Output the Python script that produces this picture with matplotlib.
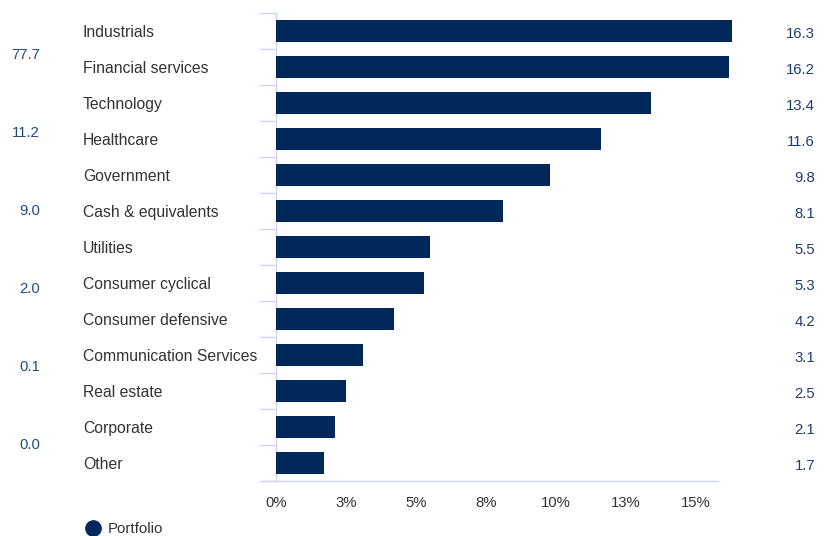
import matplotlib
matplotlib.use("Agg")
import matplotlib.pyplot as plt
from matplotlib.lines import Line2D

plt.rcParams['font.family'] = ['Liberation Sans', 'DejaVu Sans']

sectors = ['Industrials', 'Financial services', 'Technology', 'Healthcare',
           'Government', 'Cash & equivalents', 'Utilities', 'Consumer cyclical',
           'Consumer defensive', 'Communication Services', 'Real estate',
           'Corporate', 'Other']
portfolio = [16.3, 16.2, 13.4, 11.6, 9.8, 8.1, 5.5, 5.3, 4.2, 3.1, 2.5, 2.1, 1.7]
side_values = ['77.7', '11.2', '9.0', '2.0', '0.1', '0.0']
xticks = [0, 2.5, 5, 7.5, 10, 12.5, 15]
xtick_labels = ['0%', '3%', '5%', '8%', '10%', '13%', '15%']

bar_color = '#00285a'
value_color = '#1f3d6e'
side_color = '#234a80'
line_color = '#ccd6eb'

W, H = 827, 536
fig = plt.figure(figsize=(W / 100, H / 100), dpi=100)
ax = fig.add_axes([276 / W, 1 - 481 / H, (718 - 276) / W, (481 - 13) / H])

n = len(sectors)
ypos = list(range(n))
ax.barh(ypos, portfolio, height=0.61, color=bar_color, clip_on=False, zorder=3)
ax.set_ylim(n - 0.5, -0.5)
ax.set_xlim(0, (718 - 276) / 27.98)

for s in ['top', 'right', 'bottom']:
    ax.spines[s].set_visible(False)
ax.spines['left'].set_color(line_color)
ax.spines['left'].set_linewidth(1)

ax.set_yticks([i - 0.5 for i in range(n + 1)])
ax.set_yticklabels([])
ax.tick_params(axis='y', length=12, color=line_color, width=1)
ax.set_xticks(xticks)
ax.set_xticklabels(xtick_labels, fontsize=10.7, color='#333333')
ax.tick_params(axis='x', length=0, pad=11)

# bottom axis line extends left past the y axis
ax.add_line(Line2D([-13 / 27.98, ax.get_xlim()[1]], [n - 0.5, n - 0.5],
                   color=line_color, lw=1, clip_on=False, zorder=2))

for i, (name, v) in enumerate(zip(sectors, portfolio)):
    ax.annotate(name, xy=(83 / W, i + 0.04), xycoords=('figure fraction', 'data'),
                fontsize=11.3, color='#333333', va='center', ha='left')
    ax.annotate(f'{v:.1f}', xy=(815 / W, i + 0.08), xycoords=('figure fraction', 'data'),
                fontsize=10.7, color=value_color, va='center', ha='right')

# left-hand column of values
for k, s in enumerate(side_values):
    y = 0.66 + k * 78 / 36
    ax.annotate(s, xy=(40 / W, y), xycoords=('figure fraction', 'data'),
                fontsize=10.7, color=side_color, va='center', ha='right')

fig.lines.append(Line2D([93 / W], [1 - 528 / H], marker='o', markersize=11,
                        color=bar_color, transform=fig.transFigure))
fig.text(108 / W, 1 - 529 / H, 'Portfolio', fontsize=10.8, color='#333333',
         va='center', ha='left')

fig.savefig('out.png', dpi=100)
